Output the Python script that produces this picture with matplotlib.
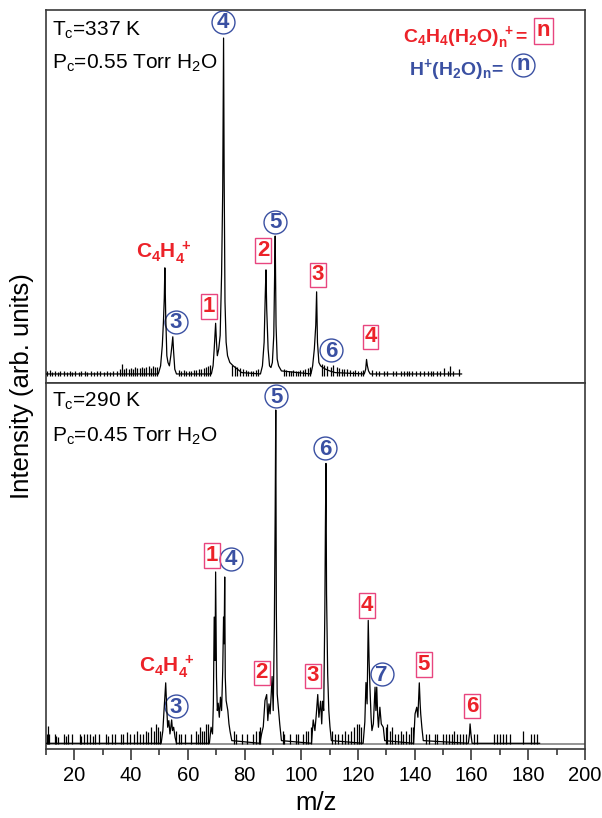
import matplotlib
matplotlib.use('Agg')
import matplotlib.pyplot as plt
from matplotlib.ticker import MultipleLocator

plt.rcParams['font.family'] = ['Liberation Sans', 'DejaVu Sans']
plt.rcParams['mathtext.fontset'] = 'custom'
plt.rcParams['mathtext.rm'] = 'Liberation Sans'
plt.rcParams['mathtext.it'] = 'Liberation Sans:italic'
plt.rcParams['mathtext.bf'] = 'Liberation Sans:bold'

# %% data (intensity in % of the tallest peak)

# upper spectrum, Tc = 337 K
top_mz = [10.0, 49.6, 50.4, 51.0, 51.4, 51.7, 51.9, 52.2, 52.6, 53.0, 53.5, 54.0, 54.4, 54.7, 55.0, 55.4, 56.0,
          68.3, 68.9, 69.3, 69.8, 70.1, 70.4, 70.9, 71.4, 71.9, 72.3, 72.6, 72.8, 73.1, 73.5, 74.0, 74.8, 76.0, 77.5, 79.0,
          85.6, 86.3, 86.9, 87.3, 87.55, 87.8, 88.3, 88.8, 89.3, 89.8, 90.3, 90.6, 90.8, 91.1, 91.5, 92.0, 93.0,
          103.4, 104.0, 104.6, 105.1, 105.4, 105.7, 106.2, 106.8, 107.6, 108.6, 110.0, 112.0,
          122.2, 122.7, 123.0, 123.3, 123.7, 124.3,
          156.5]
top_int = [0.6, 0.6, 3, 9, 16, 23, 32, 18, 6, 4, 3, 6, 9, 11.6, 7, 2, 0.6,
           0.6, 3, 8, 15.6, 10, 6, 8, 12, 30, 55, 100, 60, 22, 10, 6, 4, 3, 2, 1,
           0.6, 3, 10, 24, 31.4, 20, 8, 3, 2.5, 4, 12, 30, 41.4, 15, 5, 3, 1.5,
           0.6, 3, 8, 15, 24.9, 10, 4, 3, 2.5, 2, 1.5, 1,
           0.6, 2, 4.9, 3, 1.5, 0.6,
           0.6]
top_noise_mz = [10.5, 11.3, 12.2, 13.0, 14.1, 15.0, 16.2, 17.3, 18.5, 19.2, 20.4, 21.6, 22.5, 23.7, 24.6, 25.8,
                26.9, 28.0, 29.1, 30.3, 31.5, 32.4, 33.6, 34.9, 36.0, 36.8, 37.5, 38.3, 39.1, 39.8, 40.6, 41.4,
                42.2, 43.0, 43.8, 44.6, 45.4, 46.2, 47.0, 47.8, 48.6, 49.2,
                56.8, 57.6, 58.5, 59.4, 60.3, 61.2, 62.1, 63.0, 63.9, 64.8, 65.6, 66.4, 67.2, 67.8,
                75.5, 76.5, 77.2, 78.3, 79.5, 80.4, 81.3, 82.2, 83.1, 84.0, 84.8,
                93.8, 94.7, 95.5, 96.3, 97.1, 98.0, 98.8, 99.6, 100.5, 101.4, 102.2, 102.9,
                107.2, 108.0, 109.1, 110.5, 111.3, 112.5, 113.4, 114.2, 115.1, 116.0, 117.2, 118.1, 119.0,
                120.1, 121.0, 121.6, 125.0, 126.2, 127.5, 129.0, 130.2, 132.5, 133.4, 135.3, 136.2, 137.1,
                138.0, 139.2, 140.5, 141.8, 143.2, 144.5, 145.6, 146.4, 147.8, 149.0, 150.4, 151.6, 152.3,
                153.5, 155.6]
top_noise_int = [1.5, 1.8, 1.2, 1.5, 1.2, 1.4, 1.6, 1.2, 1.5, 1.3, 1.6, 1.2, 1.4, 1.5, 1.2, 1.6,
                 1.3, 1.5, 1.4, 1.2, 1.6, 1.3, 1.5, 1.4, 2.0, 3.5, 2.2, 2.5, 2.0, 2.4, 2.2, 2.6,
                 2.3, 2.5, 2.8, 2.4, 2.6, 2.9, 2.5, 3.0, 2.6, 2.8,
                 1.8, 1.5, 1.8, 1.4, 1.6, 1.5, 1.7, 1.9, 2.0, 2.2, 2.4, 2.8, 3.0, 3.2,
                 3.2, 3.0, 2.6, 2.4, 2.0, 1.8, 1.6, 1.6, 1.5, 1.8, 2.2,
                 2.2, 1.8, 1.6, 1.5, 1.8, 1.6, 1.5, 1.7, 1.8, 2.0, 2.4, 2.8,
                 3.5, 3.2, 3.0, 2.8, 3.2, 2.6, 2.4, 2.2, 2.0, 2.2, 1.8, 1.6, 1.8,
                 1.5, 1.6, 1.8, 1.8, 1.6, 1.5, 1.4, 1.6, 1.5, 1.4, 1.6, 1.5, 1.4,
                 1.6, 1.5, 1.4, 1.6, 1.5, 1.4, 1.5, 1.6, 1.5, 1.6, 2.4, 1.6, 3.0,
                 1.5, 2.0]

# lower spectrum, Tc = 290 K
bot_mz = [10.0, 50.6, 51.2, 51.6, 51.9, 52.2, 52.5, 52.9, 53.3, 53.7, 54.0, 54.3, 54.6, 55.0, 55.5, 56.0,
          67.6, 68.2, 68.7, 69.0, 69.3, 69.6, 69.8, 70.1, 70.4, 70.7, 71.1, 71.5, 71.9, 72.3, 72.6, 72.8,
          73.0, 73.2, 73.5, 74.1, 74.5, 74.9, 75.5,
          85.4, 86.0, 86.6, 87.2, 87.8, 88.2, 88.6, 89.0, 89.4, 89.7, 90.1, 90.5, 90.8, 91.0, 91.2, 91.5,
          91.9, 92.4, 93.0,
          103.6, 104.2, 104.8, 105.3, 105.8, 106.2, 106.8, 107.2, 107.5, 107.9, 108.3, 108.5, 108.7, 108.9,
          109.3, 109.7, 110.1, 110.6,
          121.8, 122.4, 122.8, 123.2, 123.6, 123.9, 124.2, 124.6, 124.9, 125.4, 126.0, 126.3, 126.6, 126.9,
          127.2, 127.7, 128.2, 128.9, 129.4,
          139.6, 140.1, 140.7, 141.1, 141.6, 141.9, 142.1, 142.5, 143.0,
          158.9, 159.3, 159.5, 159.8, 160.2,
          184.0]
bot_int = [0.2, 0.2, 4, 10, 14, 18.3, 12, 5, 7, 3, 5, 7.2, 4, 5, 2, 0.2,
           0.2, 5, 3, 12, 38, 25, 51.5, 20, 10, 12.2, 8, 14, 10, 22, 38, 30,
           50, 20, 13, 10, 6, 3.7, 1,
           0.2, 3, 5.2, 13, 14.8, 7, 12, 9, 15, 20.2, 10, 35, 70, 100, 40, 15,
           11, 6, 1,
           0.2, 7.2, 4, 9, 14.8, 8, 12.8, 6, 12.8, 10, 40, 65, 84, 45,
           21, 10, 5.2, 1,
           0.2, 6.6, 18.4, 12, 37, 25, 17, 8, 4, 6, 17, 10, 17, 9,
           5, 11, 6, 5, 1,
           0.2, 9, 11, 8, 18.3, 12, 9, 5, 1,
           0.2, 3, 6, 3, 0.2,
           0.2]
bot_noise_mz = [10.3, 10.8, 11.2, 13.0, 13.6, 14.2, 16.5, 17.0, 17.8, 19.3, 22.0, 22.5, 23.4, 24.5, 25.5,
                26.4, 27.2, 28.8, 31.2, 32.0, 33.1, 34.5, 36.5, 37.2, 38.4, 39.7, 41.0, 42.0, 43.0, 44.2,
                45.1, 46.0, 47.0, 48.0, 48.8, 49.5, 50.2,
                56.0, 56.8, 57.6, 59.0, 61.0, 62.8, 63.5, 64.2, 65.0, 65.7, 66.5, 67.2,
                76.2, 77.0, 79.0, 81.0, 83.0, 84.0, 85.0, 85.6,
                93.5, 94.0, 96.0, 98.0, 99.0, 100.5, 101.5, 102.5, 103.3,
                111.0, 112.0, 113.0, 114.5, 115.5, 116.5, 117.5, 118.5, 119.5, 120.3, 121.0,
                129.8, 130.3, 131.2, 132.0, 133.0, 134.0, 135.0, 136.0, 137.0, 138.0, 138.8, 139.3,
                144.0, 145.0, 147.0, 148.0, 150.0, 151.0, 152.0, 153.0, 154.0, 155.0, 156.0, 157.0, 158.0,
                161.0, 162.0, 168.0, 169.0, 170.0, 171.0, 172.0, 173.5, 178.0, 181.0, 182.0, 183.0]
bot_noise_int = [3, 5.5, 3, 3, 2.5, 2, 3, 2.5, 3, 3, 3, 2.5, 3, 3, 3,
                 2.5, 3, 3, 3, 2.5, 3, 3, 3, 3, 3.5, 3, 3, 4, 3, 3,
                 4, 3.5, 5, 4, 6, 5, 4,
                 4, 3, 3, 3, 3, 4, 3, 5, 4, 4, 6, 6,
                 4, 3, 3, 3, 3, 4, 4, 5,
                 4, 3, 3, 3, 3, 3, 4, 4, 5,
                 4, 3, 3, 3, 4, 3, 4, 5, 6, 6, 5,
                 5, 6, 4, 5, 3, 3, 4, 3, 4, 3, 5, 5,
                 3, 3, 3, 3, 3, 3, 3, 3, 4, 3, 3, 3, 3,
                 3, 3, 3, 3, 3, 3, 3, 3, 4, 3, 3, 3]

# peak assignments: C4H4(H2O)n+ in boxes, H+(H2O)n in circles
top_box_n = ['1', '2', '3', '4']
top_box_mz = [67.45, 86.5, 105.9, 124.4]
top_box_y = [20.6, 37.1, 29.9, 11.6]
top_circ_n = ['3', '4', '5', '6']
top_circ_mz = [55.8, 72.3, 90.8, 110.5]
top_circ_y = [16.1, 104.8, 45.6, 7.7]

bot_box_n = ['1', '2', '3', '4', '5', '6']
bot_box_mz = [68.45, 86.0, 104.1, 123.0, 143.1, 160.2]
bot_box_y = [56.4, 21.3, 20.4, 41.5, 23.8, 11.3]
bot_circ_n = ['3', '4', '5', '6', '7']
bot_circ_mz = [55.8, 75.3, 91.1, 108.3, 128.3]
bot_circ_y = [11.3, 55.5, 104.2, 88.6, 20.8]

c4h4_mz = [51.5, 52.5]
c4h4_y = [34.8, 21.6]

conditions = [('T$_\\mathregular{c}$=337 K', 'P$_\\mathregular{c}$=0.55 Torr H$_\\mathregular{2}$O'),
              ('T$_\\mathregular{c}$=290 K', 'P$_\\mathregular{c}$=0.45 Torr H$_\\mathregular{2}$O')]

xticks_major = [20, 40, 60, 80, 100, 120, 140, 160, 180, 200]

# %% style
red = '#ec2229'
pink = '#e8457f'
blue = '#3a50a2'
spine = '#3a3a3a'
lab_fs = 16


def box_label(ax, x, y, s, fs=lab_fs):
    ax.text(x, y, s, color=red, fontsize=fs, fontweight='bold', ha='center', va='center',
            bbox=dict(boxstyle='square,pad=0.08', fc='none', ec=pink, lw=1.0))


def circ_label(ax, x, y, s, fs=lab_fs):
    ax.plot([x], [y], 'o', ms=16.5, mfc='none', mec=blue, mew=1.0, clip_on=False)
    ax.annotate(s, (x, y), xytext=(0, -0.8), textcoords='offset points', color=blue,
                fontsize=fs, fontweight='bold', ha='center', va='center', annotation_clip=False)


fig = plt.figure(figsize=(6.02, 8.18), dpi=100)
ax1 = fig.add_axes([0.0764, 0.5318, 0.8953, 0.4560])
ax2 = fig.add_axes([0.0764, 0.0844, 0.8953, 0.4474])

panels = [(ax1, top_mz, top_int, top_noise_mz, top_noise_int, (-2.07, 108.3)),
          (ax2, bot_mz, bot_int, bot_noise_mz, bot_noise_int, (-1.5, 108.1))]

for i, (ax, mz, inten, nmz, nint, ylim) in enumerate(panels):
    if i == 1:
        ax.axhline(0, color='#8c8c8c', lw=1.3, zorder=1)
    ax.vlines(nmz, 0, nint, color='k', lw=0.9, zorder=2)
    ax.plot(mz, inten, color='k', lw=0.9, zorder=3)
    ax.set_xlim(10, 200)
    ax.set_ylim(*ylim)
    ax.set_yticks([])
    for sp in ax.spines.values():
        sp.set_color(spine)
        sp.set_linewidth(1.2)
    ax.text(0.011, [0.930, 0.934][i], conditions[i][0], transform=ax.transAxes, fontsize=15, va='baseline')
    ax.text(0.011, [0.843, 0.840][i], conditions[i][1], transform=ax.transAxes, fontsize=15, va='baseline')
    ax.text(c4h4_mz[i], c4h4_y[i], r'$\mathbf{C_4H_4^{\ +}}$', color=red, fontsize=15, ha='center', va='baseline')

ax1.set_xticks([])

for n, x, y in zip(top_box_n, top_box_mz, top_box_y):
    box_label(ax1, x, y, n)
for n, x, y in zip(top_circ_n, top_circ_mz, top_circ_y):
    circ_label(ax1, x, y, n)
for n, x, y in zip(bot_box_n, bot_box_mz, bot_box_y):
    box_label(ax2, x, y, n)
for n, x, y in zip(bot_circ_n, bot_circ_mz, bot_circ_y):
    circ_label(ax2, x, y, n)

# key for the two cluster series
ax1.text(0.662, 0.914, r'$\mathbf{C_4H_4(H_2O)_n^{\ +}}$=', transform=ax1.transAxes, color=red,
         fontsize=14, fontweight='bold', va='baseline')
ax1.text(0.923, 0.944, 'n', transform=ax1.transAxes, color=red, fontsize=lab_fs, fontweight='bold',
         ha='center', va='center', bbox=dict(boxstyle='square,pad=0.12', fc='none', ec=pink, lw=1.0))
ax1.text(0.674, 0.826, r'$\mathbf{H^{+}(H_2O)_n}$=', transform=ax1.transAxes, color=blue,
         fontsize=14, fontweight='bold', va='baseline')
ax1.plot([0.885], [0.853], 'o', ms=16.5, mfc='none', mec=blue, mew=1.0, transform=ax1.transAxes)
ax1.text(0.885, 0.853, 'n', transform=ax1.transAxes, color=blue, fontsize=lab_fs, fontweight='bold',
         ha='center', va='center')

ax2.set_xticks(xticks_major)
ax2.xaxis.set_minor_locator(MultipleLocator(10))
ax2.tick_params(axis='x', which='major', direction='out', length=8, width=1.2, color=spine,
                labelsize=14.5, pad=4)
ax2.tick_params(axis='x', which='minor', direction='out', length=4.5, width=1.2, color=spine)

fig.text(0.525, 0.018, 'm/z', fontsize=18.5, ha='center', va='center')
fig.text(0.0365, 0.528, 'Intensity (arb. units)', fontsize=18.5, rotation=90, ha='center', va='center')

fig.savefig('out.png', dpi=100)
